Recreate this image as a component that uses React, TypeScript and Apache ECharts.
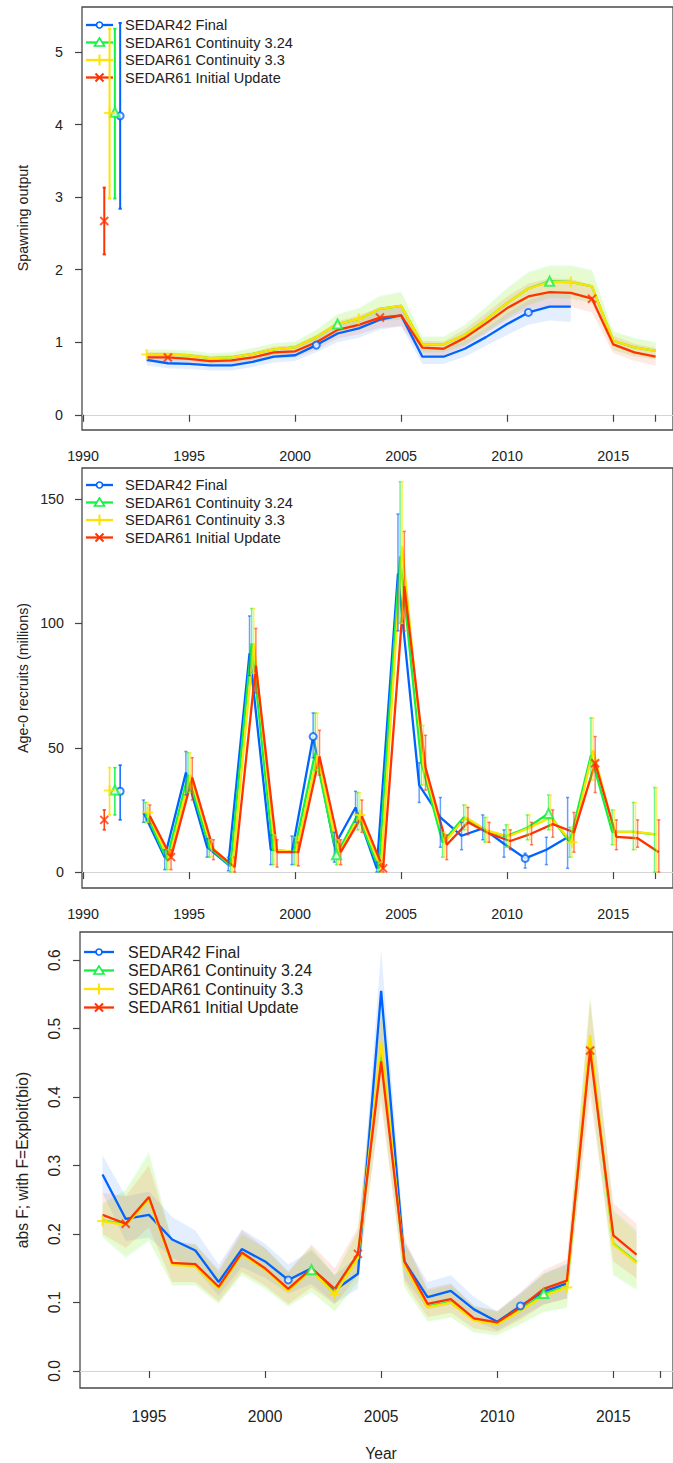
import React, { useEffect, useRef } from "react";
import * as echarts from "echarts";

const FONT = "'Liberation Sans', Arial, Helvetica, sans-serif";
const TEXT = "#222222";
const AXIS = "#444444";

const modelNames = ["SEDAR42 Final", "SEDAR61 Continuity 3.24", "SEDAR61 Continuity 3.3", "SEDAR61 Initial Update"];
const modelColors = ["#0063FF", "#13F240", "#FEE201", "#FF3300"];
const modelSymbols = ["circle", "triangle", "plus", "cross"];
const markerYears = [[2001, 2011], [2002, 2012], [1993, 2003, 2013], [1994, 2004, 2014]];
const virginX = [1991.75, 1991.5, 1991.25, 1991.0];
const recShift = [-0.15, -0.05, 0.05, 0.15];

const yearsS42 = [1993, 1994, 1995, 1996, 1997, 1998, 1999, 2000, 2001, 2002, 2003, 2004, 2005, 2006, 2007, 2008, 2009, 2010, 2011, 2012, 2013];
const yearsS61 = [1993, 1994, 1995, 1996, 1997, 1998, 1999, 2000, 2001, 2002, 2003, 2004, 2005, 2006, 2007, 2008, 2009, 2010, 2011, 2012, 2013, 2014, 2015, 2016, 2017];
const yearsF61 = [1993, 1994, 1995, 1996, 1997, 1998, 1999, 2000, 2001, 2002, 2003, 2004, 2005, 2006, 2007, 2008, 2009, 2010, 2011, 2012, 2013, 2014, 2015, 2016];

// ---- Spawning output ----
const ssbS42 = [0.755, 0.71, 0.70, 0.68, 0.68, 0.73, 0.80, 0.82, 0.96, 1.12, 1.19, 1.31, 1.37, 0.80, 0.80, 0.91, 1.07, 1.25, 1.41, 1.49, 1.49];
const ssbS42Lo = [0.68, 0.64, 0.63, 0.61, 0.61, 0.66, 0.72, 0.74, 0.86, 1.00, 1.06, 1.17, 1.22, 0.70, 0.70, 0.80, 0.95, 1.10, 1.24, 1.30, 1.28];
const ssbS42Hi = [0.83, 0.78, 0.77, 0.75, 0.75, 0.80, 0.88, 0.90, 1.06, 1.24, 1.32, 1.45, 1.52, 0.90, 0.90, 1.02, 1.19, 1.40, 1.58, 1.68, 1.70];
const ssbC324 = [0.83, 0.83, 0.82, 0.78, 0.79, 0.84, 0.90, 0.93, 1.07, 1.25, 1.32, 1.46, 1.50, 0.97, 0.97, 1.10, 1.31, 1.54, 1.74, 1.84, 1.83, 1.77, 1.02, 0.93, 0.88];
const ssbC324Lo = [0.75, 0.75, 0.74, 0.70, 0.71, 0.75, 0.81, 0.84, 0.96, 1.11, 1.17, 1.29, 1.31, 0.86, 0.86, 0.96, 1.14, 1.33, 1.51, 1.61, 1.60, 1.54, 0.89, 0.80, 0.76];
const ssbC324Hi = [0.90, 0.90, 0.89, 0.85, 0.86, 0.92, 0.99, 1.01, 1.17, 1.39, 1.47, 1.64, 1.70, 1.08, 1.08, 1.24, 1.49, 1.75, 1.97, 2.06, 2.06, 2.00, 1.15, 1.06, 1.00];
const ssbC33 = [0.83, 0.83, 0.82, 0.78, 0.79, 0.84, 0.90, 0.93, 1.07, 1.25, 1.32, 1.46, 1.50, 0.97, 0.97, 1.10, 1.31, 1.54, 1.74, 1.83, 1.83, 1.77, 1.02, 0.93, 0.88];
const ssbC33Lo = [0.76, 0.76, 0.75, 0.71, 0.72, 0.76, 0.82, 0.85, 0.97, 1.12, 1.18, 1.30, 1.32, 0.87, 0.87, 0.97, 1.15, 1.34, 1.52, 1.61, 1.60, 1.55, 0.90, 0.81, 0.77];
const ssbC33Hi = [0.89, 0.89, 0.88, 0.84, 0.85, 0.91, 0.98, 1.00, 1.16, 1.38, 1.46, 1.62, 1.68, 1.07, 1.07, 1.23, 1.47, 1.73, 1.95, 2.04, 2.04, 1.98, 1.14, 1.05, 0.99];
const ssbIU = [0.79, 0.79, 0.77, 0.74, 0.75, 0.79, 0.86, 0.875, 1.00, 1.17, 1.24, 1.34, 1.37, 0.925, 0.91, 1.06, 1.26, 1.47, 1.63, 1.69, 1.68, 1.60, 0.97, 0.86, 0.80];
const ssbIULo = [0.72, 0.72, 0.70, 0.67, 0.68, 0.72, 0.78, 0.79, 0.90, 1.05, 1.11, 1.20, 1.22, 0.83, 0.81, 0.94, 1.12, 1.31, 1.45, 1.50, 1.49, 1.41, 0.85, 0.74, 0.68];
const ssbIUHi = [0.86, 0.86, 0.84, 0.81, 0.82, 0.86, 0.94, 0.96, 1.10, 1.29, 1.37, 1.48, 1.52, 1.02, 1.01, 1.18, 1.40, 1.63, 1.81, 1.88, 1.87, 1.79, 1.09, 0.98, 0.92];
const ssbVirgin = [4.12, 4.17, 4.16, 2.67];
const ssbVirginLo = [2.84, 2.98, 2.98, 2.21];
const ssbVirginHi = [5.40, 5.32, 5.32, 3.13];

// ---- Age-0 recruits ----
const recS42 = [24, 6, 40, 10, 3, 88, 9, 8, 54.5, 10.5, 26, 1.5, 120, 35, 22, 14.6, 17.6, 11.4, 5.5, 9, 14];
const recS42Lo = [20, 1, 31, 6, 0.5, 79, 3, 3, 46, 4, 20, 0, 97, 28, 10, 9, 13, 6, 1.6, 3, 1.5];
const recS42Hi = [29, 9, 48.5, 13.5, 6, 103, 15, 14.5, 64, 16, 32.5, 4, 144, 44, 30, 20, 23, 17, 7.6, 14, 30];
const recC324 = [24, 5, 39, 10, 2.5, 92, 9, 8, 48, 7, 23, 1.5, 127, 44, 12, 22, 16.7, 14.4, 17.8, 23.6, 12, 47, 16.2, 16.2, 15.2];
const recC324Lo = [20, 1, 32, 6, 0, 80, 3, 3, 41, 3, 17, 0, 100, 35, 6, 17, 12, 10, 13, 17, 6, 37, 11, 9, 0];
const recC324Hi = [28, 9, 48, 13, 6, 106, 15, 14, 64, 13, 32, 4, 157, 59, 16, 27, 22, 19, 23, 31, 18, 62, 25, 28, 34];
const recC33 = [24, 5, 39, 10, 2.5, 92, 9, 8, 47, 7, 23, 1.5, 131, 43, 12, 22, 16.7, 14.4, 17.8, 22, 12, 49, 16.2, 16.2, 15.2];
const recC33Lo = [20, 1, 32, 6, 0, 80, 3, 3, 41, 3, 17, 0, 100, 35, 6, 17, 12, 10, 13, 17, 6, 37, 11, 9, 0];
const recC33Hi = [28, 9, 48, 13, 6, 106, 15, 14, 64, 13, 32, 4, 157, 59, 16, 27, 22, 19, 23, 31, 18, 62, 25, 28, 34];
const recIU = [22.5, 6, 38, 9, 2, 83, 8, 8, 46.5, 8, 22.5, 1.5, 115, 42, 11, 20, 15.5, 12.5, 15.5, 19.3, 16, 43.8, 14.2, 13.6, 8];
const recIULo = [19.5, 1, 29, 5, 0, 72, 2, 2.5, 39, 3, 16, 0, 97, 33, 5, 15, 12, 9, 11, 14, 8, 32, 9, 10, 0];
const recIUHi = [27, 9, 46, 13, 6, 98, 13, 12, 57, 13, 29, 3, 137, 55, 15, 26, 20, 17, 20, 25, 24, 54.5, 21, 21, 21];
const recVirgin = [32.5, 33, 32.8, 21];
const recVirginLo = [21, 23, 23, 17];
const recVirginHi = [43, 42, 42, 25];

// ---- abs F ----
const fS42 = [0.287, 0.222, 0.228, 0.192, 0.176, 0.130, 0.178, 0.160, 0.133, 0.150, 0.118, 0.142, 0.555, 0.160, 0.108, 0.117, 0.090, 0.072, 0.095, 0.116, 0.128];
const fS42Lo = [0.26, 0.19, 0.195, 0.165, 0.15, 0.11, 0.152, 0.136, 0.113, 0.127, 0.099, 0.12, 0.48, 0.135, 0.09, 0.097, 0.074, 0.059, 0.078, 0.097, 0.106];
const fS42Hi = [0.315, 0.255, 0.262, 0.225, 0.205, 0.155, 0.207, 0.186, 0.156, 0.176, 0.140, 0.168, 0.615, 0.188, 0.13, 0.14, 0.108, 0.087, 0.114, 0.142, 0.157];
const fC324 = [0.22, 0.214, 0.252, 0.156, 0.154, 0.121, 0.171, 0.149, 0.118, 0.148, 0.113, 0.166, 0.47, 0.156, 0.094, 0.101, 0.075, 0.069, 0.089, 0.113, 0.123, 0.48, 0.186, 0.159];
const fC324Lo = [0.195, 0.165, 0.19, 0.125, 0.125, 0.098, 0.14, 0.12, 0.094, 0.115, 0.087, 0.13, 0.40, 0.122, 0.072, 0.078, 0.056, 0.052, 0.068, 0.086, 0.092, 0.42, 0.14, 0.118];
const fC324Hi = [0.245, 0.265, 0.32, 0.19, 0.185, 0.145, 0.2, 0.18, 0.145, 0.182, 0.14, 0.205, 0.55, 0.19, 0.118, 0.126, 0.095, 0.087, 0.112, 0.142, 0.155, 0.55, 0.235, 0.205];
const fC33 = [0.219, 0.213, 0.250, 0.155, 0.153, 0.120, 0.170, 0.148, 0.117, 0.147, 0.112, 0.165, 0.480, 0.155, 0.093, 0.100, 0.074, 0.068, 0.088, 0.110, 0.122, 0.490, 0.185, 0.158];
const fC33Lo = [0.197, 0.168, 0.192, 0.126, 0.126, 0.099, 0.141, 0.121, 0.095, 0.116, 0.088, 0.131, 0.41, 0.123, 0.073, 0.079, 0.057, 0.053, 0.069, 0.087, 0.093, 0.425, 0.142, 0.12];
const fC33Hi = [0.243, 0.262, 0.315, 0.188, 0.183, 0.144, 0.198, 0.178, 0.143, 0.18, 0.138, 0.203, 0.545, 0.188, 0.116, 0.124, 0.093, 0.085, 0.11, 0.14, 0.153, 0.545, 0.232, 0.202];
const fIU = [0.228, 0.215, 0.254, 0.158, 0.156, 0.123, 0.173, 0.150, 0.120, 0.150, 0.120, 0.171, 0.452, 0.160, 0.098, 0.105, 0.077, 0.071, 0.093, 0.120, 0.132, 0.468, 0.198, 0.170];
const fIULo = [0.2, 0.18, 0.21, 0.13, 0.13, 0.102, 0.145, 0.125, 0.098, 0.122, 0.097, 0.14, 0.39, 0.13, 0.079, 0.085, 0.062, 0.057, 0.075, 0.097, 0.106, 0.40, 0.16, 0.135];
const fIUHi = [0.26, 0.255, 0.3, 0.19, 0.185, 0.148, 0.205, 0.18, 0.145, 0.185, 0.15, 0.21, 0.52, 0.195, 0.12, 0.128, 0.095, 0.088, 0.115, 0.147, 0.163, 0.54, 0.245, 0.215];

// ---- axes ----
const xTicksTop = [1990, 1995, 2000, 2005, 2010, 2015, 2017];
const xLabelsTop = [1990, 1995, 2000, 2005, 2010, 2015];
const xTicksBottom = [1995, 2000, 2005, 2010, 2015, 2017];
const xLabelsBottom = [1995, 2000, 2005, 2010, 2015];
const ssbTicks = [0, 1, 2, 3, 4, 5];
const recTicks = [0, 50, 100, 150];
const fTicks = [0, 0.1, 0.2, 0.3, 0.4, 0.5, 0.6];

const ssbModels = [
  { years: yearsS42, v: ssbS42, lo: ssbS42Lo, hi: ssbS42Hi },
  { years: yearsS61, v: ssbC324, lo: ssbC324Lo, hi: ssbC324Hi },
  { years: yearsS61, v: ssbC33, lo: ssbC33Lo, hi: ssbC33Hi },
  { years: yearsS61, v: ssbIU, lo: ssbIULo, hi: ssbIUHi },
];
const recModels = [
  { years: yearsS42, v: recS42, lo: recS42Lo, hi: recS42Hi },
  { years: yearsS61, v: recC324, lo: recC324Lo, hi: recC324Hi },
  { years: yearsS61, v: recC33, lo: recC33Lo, hi: recC33Hi },
  { years: yearsS61, v: recIU, lo: recIULo, hi: recIUHi },
];
const fModels = [
  { years: yearsS42, v: fS42, lo: fS42Lo, hi: fS42Hi },
  { years: yearsF61, v: fC324, lo: fC324Lo, hi: fC324Hi },
  { years: yearsF61, v: fC33, lo: fC33Lo, hi: fC33Hi },
  { years: yearsF61, v: fIU, lo: fIULo, hi: fIUHi },
];

const PLUS = "path://M5,0L5,10M0,5L10,5";
const CROSS = "path://M0,0L10,10M10,0L0,10";

function symbolFor(i: number) {
  if (modelSymbols[i] === "circle") return { symbol: "emptyCircle", symbolSize: 7 };
  if (modelSymbols[i] === "triangle") return { symbol: "emptyTriangle", symbolSize: 9 };
  if (modelSymbols[i] === "plus") return { symbol: PLUS, symbolSize: 11 };
  return { symbol: CROSS, symbolSize: 8 };
}

function bandSeries(g: number, xs: number[], lo: number[], hi: number[], color: string, opacity: number) {
  return {
    type: "custom",
    xAxisIndex: g,
    yAxisIndex: g,
    silent: true,
    clip: true,
    z: 1,
    data: xs.map((x, i) => [x, lo[i], hi[i]]),
    encode: { x: 0, y: [1, 2] },
    renderItem: (params: any, api: any) => {
      if (params.dataIndex !== 0) return null;
      const top = xs.map((x, i) => api.coord([x, hi[i]]));
      const bot = xs.map((x, i) => api.coord([x, lo[i]])).reverse();
      return { type: "polygon", shape: { points: top.concat(bot) }, style: { fill: color, opacity } };
    },
  };
}

function errorBarSeries(g: number, pts: number[][], color: string, opacity: number, width: number, z: number) {
  return {
    type: "custom",
    xAxisIndex: g,
    yAxisIndex: g,
    silent: true,
    clip: true,
    z,
    data: pts,
    encode: { x: 0, y: [1, 2] },
    renderItem: (params: any, api: any) => {
      const x = api.value(0);
      const p1 = api.coord([x, api.value(1)]);
      const p2 = api.coord([x, api.value(2)]);
      const c = 1.6;
      const st = { stroke: color, lineWidth: width, opacity };
      return {
        type: "group",
        children: [
          { type: "line", shape: { x1: p1[0], y1: p1[1], x2: p2[0], y2: p2[1] }, style: st },
          { type: "line", shape: { x1: p1[0] - c, y1: p1[1], x2: p1[0] + c, y2: p1[1] }, style: st },
          { type: "line", shape: { x1: p2[0] - c, y1: p2[1], x2: p2[0] + c, y2: p2[1] }, style: st },
        ],
      };
    },
  };
}

function lineSeries(g: number, data: number[][], color: string, z: number, withZero: boolean) {
  const s: any = {
    type: "line",
    xAxisIndex: g,
    yAxisIndex: g,
    data,
    showSymbol: false,
    symbol: "none",
    silent: true,
    z,
    lineStyle: { color, width: 2.3 },
    itemStyle: { color },
  };
  if (withZero) {
    s.markLine = {
      silent: true,
      symbol: "none",
      label: { show: false },
      lineStyle: { color: "#d4d4d4", type: "solid", width: 1.2 },
      data: [{ yAxis: 0 }],
      z: 0,
    };
  }
  return s;
}

function markerSeries(g: number, data: number[][], i: number, z: number) {
  const sym = symbolFor(i);
  const isPath = sym.symbol.startsWith("path");
  return {
    type: "scatter",
    xAxisIndex: g,
    yAxisIndex: g,
    silent: true,
    z,
    data,
    symbol: sym.symbol,
    symbolSize: sym.symbolSize,
    itemStyle: isPath
      ? { color: "transparent", borderColor: modelColors[i], borderWidth: 2 }
      : { color: modelColors[i], borderColor: modelColors[i], borderWidth: 1.6 },
  };
}

function xAxis(g: number, min: number, max: number, ticks: number[], labels: number[], fs: number, margin: number) {
  return {
    type: "value",
    gridIndex: g,
    min,
    max,
    axisLine: { show: false },
    splitLine: { show: false },
    axisTick: { show: true, length: 7, customValues: ticks, lineStyle: { color: AXIS, width: 1.2 } },
    axisLabel: { show: true, customValues: labels, margin, fontSize: fs, fontFamily: FONT, color: TEXT, formatter: (v: number) => String(v) },
  };
}

function yAxis(g: number, min: number, max: number, ticks: number[], fs: number, margin: number, rotate: number, fmt: (v: number) => string) {
  return {
    type: "value",
    gridIndex: g,
    min,
    max,
    axisLine: { show: false },
    splitLine: { show: false },
    axisTick: { show: true, length: 7, customValues: ticks, lineStyle: { color: AXIS, width: 1.2 } },
    axisLabel: { show: true, customValues: ticks, margin, rotate, fontSize: fs, fontFamily: FONT, color: TEXT, formatter: fmt },
  };
}

function legendGraphics(x0: number, x1: number, tx: number, ys: number[], fs: number) {
  const els: any[] = [];
  const cx = (x0 + x1) / 2;
  ys.forEach((y, i) => {
    const c = modelColors[i];
    els.push({ type: "line", shape: { x1: x0, y1: y, x2: x1, y2: y }, style: { stroke: c, lineWidth: 2.3 } });
    const st = { stroke: c, lineWidth: 2, fill: "none" };
    if (i === 0) els.push({ type: "circle", shape: { cx, cy: y, r: 3 }, style: { stroke: c, lineWidth: 1.6, fill: "#ffffff" } });
    if (i === 1) els.push({ type: "polygon", shape: { points: [[cx, y - 4.5], [cx - 5, y + 3.5], [cx + 5, y + 3.5]] }, style: { stroke: c, lineWidth: 1.6, fill: "#ffffff" } });
    if (i === 2) {
      els.push({ type: "line", shape: { x1: cx, y1: y - 5.5, x2: cx, y2: y + 5.5 }, style: st });
    }
    if (i === 3) {
      els.push({ type: "line", shape: { x1: cx - 4, y1: y - 4, x2: cx + 4, y2: y + 4 }, style: st });
      els.push({ type: "line", shape: { x1: cx - 4, y1: y + 4, x2: cx + 4, y2: y - 4 }, style: st });
    }
    els.push({
      type: "text",
      x: tx,
      y,
      style: { text: modelNames[i], fontSize: fs, fontFamily: FONT, fill: TEXT, textAlign: "left", textVerticalAlign: "middle", verticalAlign: "middle" },
    });
  });
  return els;
}

function rotText(text: string, x: number, y: number, fs: number) {
  return {
    type: "text",
    x,
    y,
    rotation: Math.PI / 2,
    style: { text, fontSize: fs, fontFamily: FONT, fill: TEXT, textAlign: "center", textVerticalAlign: "middle", verticalAlign: "middle" },
  };
}

function buildOption() {
  const series: any[] = [];
  const bandOpacity = 0.11;
  ssbModels.forEach((m, i) => series.push(bandSeries(0, m.years, m.lo, m.hi, modelColors[i], bandOpacity)));
  fModels.forEach((m, i) => series.push(bandSeries(2, m.years, m.lo, m.hi, modelColors[i], bandOpacity)));

  ssbModels.forEach((m, i) => {
    series.push(lineSeries(0, m.years.map((y, k) => [y, m.v[k]]), modelColors[i], 3 + i, i === 0));
    const mk = markerYears[i].filter((y) => m.years.includes(y)).map((y) => [y, m.v[m.years.indexOf(y)]]);
    series.push(markerSeries(0, mk, i, 10 + i));
  });
  [3, 2, 1, 0].forEach((i) => {
    series.push(errorBarSeries(0, [[virginX[i], ssbVirginLo[i], ssbVirginHi[i]]], modelColors[i], 1, 2, 8));
    series.push(markerSeries(0, [[virginX[i], ssbVirgin[i]]], i, 10 + i));
  });

  recModels.forEach((m, i) => {
    const sh = recShift[i];
    series.push(lineSeries(1, m.years.map((y, k) => [y + sh, m.v[k]]), modelColors[i], 3 + i, i === 0));
    series.push(errorBarSeries(1, m.years.map((y, k) => [y + sh, m.lo[k], m.hi[k]]), modelColors[i], 0.6, 1.5, 7));
    const mk = markerYears[i].filter((y) => m.years.includes(y)).map((y) => [y + sh, m.v[m.years.indexOf(y)]]);
    series.push(markerSeries(1, mk, i, 10 + i));
  });
  [3, 2, 1, 0].forEach((i) => {
    series.push(errorBarSeries(1, [[virginX[i], recVirginLo[i], recVirginHi[i]]], modelColors[i], 0.9, 1.6, 8));
    series.push(markerSeries(1, [[virginX[i], recVirgin[i]]], i, 10 + i));
  });

  fModels.forEach((m, i) => {
    series.push(lineSeries(2, m.years.map((y, k) => [y, m.v[k]]), modelColors[i], 3 + i, i === 0));
    const mk = markerYears[i].filter((y) => m.years.includes(y)).map((y) => [y, m.v[m.years.indexOf(y)]]);
    series.push(markerSeries(2, mk, i, 10 + i));
  });

  const gridBase = { show: true, borderColor: "#4a4a4a", borderWidth: 1.3, backgroundColor: "transparent", containLabel: false };

  const graphic: any[] = [
    ...legendGraphics(86, 113, 125, [25, 42.5, 60, 77.5], 14.6),
    ...legendGraphics(86, 113, 125, [485, 502.5, 520, 537.5], 14.6),
    ...legendGraphics(84, 114, 128, [952, 970.5, 989, 1007.5], 16),
    rotText("Spawning output", 23, 218, 14.3),
    rotText("Age-0 recruits (millions)", 23, 678, 14.3),
    rotText("abs F; with F=Exploit(bio)", 22, 1160, 15.6),
    {
      type: "text",
      x: 381,
      y: 1453,
      style: { text: "Year", fontSize: 15.6, fontFamily: FONT, fill: TEXT, textAlign: "center", textVerticalAlign: "middle", verticalAlign: "middle" },
    },
  ];

  return {
    animation: false,
    backgroundColor: "#ffffff",
    grid: [
      { ...gridBase, left: 82, top: 7, width: 593, height: 423 },
      { ...gridBase, left: 82, top: 468, width: 593, height: 420 },
      { ...gridBase, left: 80, top: 932, width: 595, height: 456 },
    ],
    xAxis: [
      xAxis(0, 1989.95, 2017.82, xTicksTop, xLabelsTop, 14.3, 19),
      xAxis(1, 1989.95, 2017.82, xTicksTop, xLabelsTop, 14.3, 19),
      xAxis(2, 1992.03, 2017.57, xTicksBottom, xLabelsBottom, 15.6, 20),
    ],
    yAxis: [
      yAxis(0, -0.21, 5.62, ssbTicks, 14.3, 19, 0, (v: number) => String(v)),
      yAxis(1, -6.4, 162.5, recTicks, 14.3, 18, 0, (v: number) => String(v)),
      yAxis(2, -0.0248, 0.641, fTicks, 15.6, 18, 90, (v: number) => v.toFixed(1)),
    ],
    series,
    graphic,
  };
}

export default function App() {
  const ref = useRef<HTMLDivElement>(null);
  useEffect(() => {
    if (!ref.current) return;
    const chart = echarts.init(ref.current, undefined, { renderer: "svg" });
    chart.setOption(buildOption() as any);
    return () => chart.dispose();
  }, []);
  return (
    <div
      ref={ref}
      style={{ position: "fixed", left: 0, top: 0, width: 673, height: 1463, background: "#ffffff" }}
    />
  );
}
